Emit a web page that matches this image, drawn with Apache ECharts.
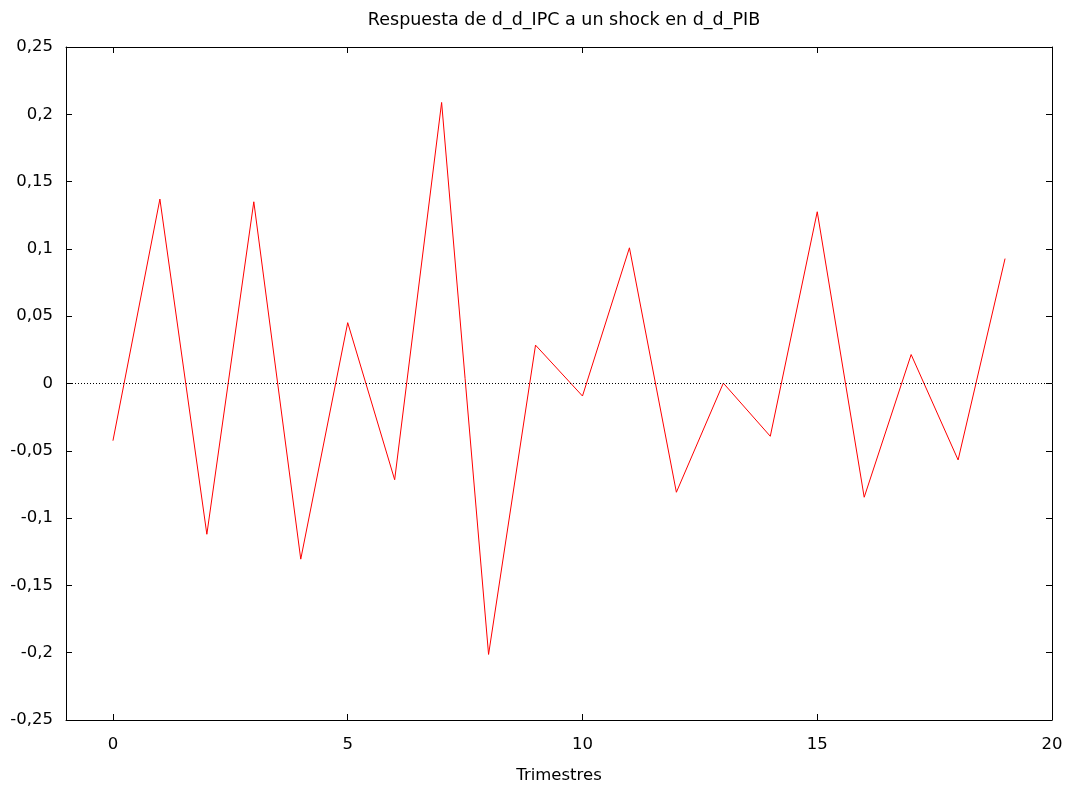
<!DOCTYPE html>
<html>
<head>
<meta charset="utf-8">
<script src="https://cdn.jsdelivr.net/npm/echarts@6/dist/echarts.min.js"></script>
<style>html,body{margin:0;padding:0;background:#fff}#c{width:1074px;height:789px}</style>
</head>
<body>
<div id="c"></div>
<script>
const titleText = 'Respuesta de d_d_IPC a un shock en d_d_PIB';
const xName = 'Trimestres';
const periods = [0,1,2,3,4,5,6,7,8,9,10,11,12,13,14,15,16,17,18,19];
const response = [-0.0425,0.137,-0.112,0.135,-0.1305,0.0452,-0.0715,0.2088,-0.2013,0.0285,-0.0093,0.1008,-0.0808,0.0003,-0.0392,0.1276,-0.0845,0.0215,-0.0568,0.0928];
const xTicks = [0,5,10,15,20];
const yTicks = [-0.25,-0.2,-0.15,-0.1,-0.05,0,0.05,0.1,0.15,0.2,0.25];

const font = 'DejaVu Sans';
const fmtY = v => String(+(+v).toFixed(2)).replace('.', ',');
const axisLine = {show:true, onZero:false, lineStyle:{color:'#000', width:1}};
const tick = {show:true, inside:true, length:6, lineStyle:{color:'#000', width:1}};

const chart = echarts.init(document.getElementById('c'), null, {renderer:'canvas'});
chart.setOption({
  animation:false,
  backgroundColor:'#fff',
  title:{text:titleText, left:559, textAlign:'center', top:6, textStyle:{fontFamily:font, fontSize:17.5, fontWeight:'normal', color:'#000'}},
  grid:{left:66, right:22, top:47, bottom:68},
  xAxis:[{
    type:'value', min:-1, max:20, position:'bottom',
    name:xName, nameLocation:'middle', nameGap:47,
    nameTextStyle:{fontFamily:font, fontSize:16.5, color:'#000'},
    axisLine:axisLine,
    axisTick:Object.assign({}, tick, {customValues:xTicks}),
    axisLabel:{customValues:xTicks, fontFamily:font, fontSize:16.5, color:'#000', margin:16},
    splitLine:{show:false}
  },{
    type:'value', min:-1, max:20, position:'top',
    axisLine:axisLine,
    axisTick:Object.assign({}, tick, {customValues:xTicks}),
    axisLabel:{show:false, customValues:xTicks},
    splitLine:{show:false}
  }],
  yAxis:[{
    type:'value', min:-0.25, max:0.25, interval:0.05, position:'left',
    axisLine:axisLine, axisTick:tick,
    axisLabel:{formatter:fmtY, fontFamily:font, fontSize:16.5, color:'#000', margin:13},
    splitLine:{show:false}
  },{
    type:'value', min:-0.25, max:0.25, interval:0.05, position:'right',
    axisLine:axisLine, axisTick:tick,
    axisLabel:{show:false},
    splitLine:{show:false}
  }],
  series:[{
    type:'line',
    data:periods.map((p,i)=>[p,response[i]]),
    showSymbol:false, symbol:'none',
    lineStyle:{color:'#ff0000', width:1},
    markLine:{silent:true, symbol:'none', label:{show:false},
      lineStyle:{color:'#000', width:1, type:[1,2]},
      data:[{yAxis:0}]}
  }]
});
</script>
</body>
</html>
